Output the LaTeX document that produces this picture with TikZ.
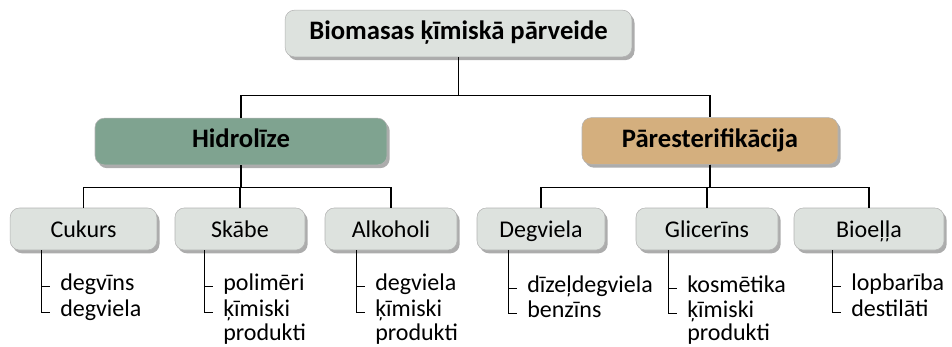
\documentclass[tikz,border=0pt]{standalone}
\usepackage{fontspec}
\setmainfont{Carlito}
\usetikzlibrary{shadows}
\definecolor{boxgray}{HTML}{DDE2DE}
\definecolor{hidgreen}{HTML}{7FA390}
\definecolor{partan}{HTML}{D4AF7E}
\begin{document}
\begin{tikzpicture}[
                    x=0.75pt, y=-0.75pt,
                    font=\fontsize{18}{22}\selectfont,
                    box/.style={rectangle, rounded corners=7pt, draw=black!30, line width=0.4pt,
                        fill=boxgray, minimum height=31.5pt, inner sep=0pt,
                        text height=16.5pt, text depth=4pt,
                        drop shadow={shadow xshift=2pt, shadow yshift=-2.5pt, opacity=0.65}},
                    headbox/.style={box, minimum height=35pt, text height=14pt, text depth=4.5pt,
                        font=\fontsize{20}{24}\selectfont\bfseries},
                    item/.style={anchor=base west, inner sep=0pt, text height=1ex, text depth=0pt},
                    link/.style={line width=0.8pt}
                ]
                \useasboundingbox (0,0) rectangle (952,346);

                % Blocks
                \node [headbox, minimum width=260pt] (top) at (458.5,33.5) {Biomasas ķīmiskā pārveide};
                \node [headbox, fill=hidgreen, minimum width=219pt] (hid) at (241,141.5) {Hidrolīze};
                \node [headbox, fill=partan, minimum width=192pt] (par) at (710,141) {Pāresterifikācija};

                \node [box, minimum width=110pt] (cuk) at (83.5,229) {Cukurs};
                \node [box, minimum width=97.5pt] (skb) at (240,229) {Skābe};
                \node [box, minimum width=99pt] (alk) at (391,229) {Alkoholi};
                \node [box, minimum width=96pt] (deg) at (541,229) {Degviela};
                \node [box, minimum width=106.5pt] (gli) at (707,229) {Glicerīns};
                \node [box, minimum width=112.5pt] (bio) at (869,229) {Bioeļļa};

                % Products
                \node [item] (cuk1) at (60,290) {degvīns};
                \node [item] (cuk2) at (60,316) {degviela};
                \node [item] (skb1) at (223,290) {polimēri};
                \node [item] (skb2) at (223,316) {ķīmiski};
                \node [item] (skb3) at (223,340) {produkti};
                \node [item] (alk1) at (375,290) {degviela};
                \node [item] (alk2) at (375,316) {ķīmiski};
                \node [item] (alk3) at (375,340) {produkti};
                \node [item] (deg1) at (527,292) {dīzeļdegviela};
                \node [item] (deg2) at (527,317) {benzīns};
                \node [item] (gli1) at (687,292) {kosmētika};
                \node [item] (gli2) at (687,317) {ķīmiski};
                \node [item] (gli3) at (687,340) {produkti};
                \node [item] (bio1) at (851,290) {lopbarība};
                \node [item] (bio2) at (851,316) {destilāti};

                % Connections
                \draw [link] (top.south) -- ++(0,38) -| (hid.north);
                \draw [link] (top.south) -- ++(0,38) -| (par.north);
                \draw [link] (hid.south) -- ++(0,22) -| (cuk.north);
                \draw [link] (hid.south) -- ++(0,22) -| (skb.north);
                \draw [link] (hid.south) -- ++(0,22) -| (alk.north);
                \draw [link] (par.south) -- ++(0,22.5) -| (deg.north);
                \draw [link] (par.south) -- ++(0,22.5) -| (gli.north);
                \draw [link] (par.south) -- ++(0,22.5) -| (bio.north);

                % Product trees
                \draw [link] ([xshift=-14pt]cuk1.west |- cuk.south) |- ([xshift=-7.5pt]cuk2.west);
                \draw [link] ([xshift=-14pt]cuk1.west) -- ([xshift=-7.5pt]cuk1.west);
                \draw [link] ([xshift=-14pt]skb1.west |- skb.south) |- ([xshift=-7.5pt]skb2.west);
                \draw [link] ([xshift=-14pt]skb1.west) -- ([xshift=-7.5pt]skb1.west);
                \draw [link] ([xshift=-14pt]alk1.west |- alk.south) |- ([xshift=-7.5pt]alk2.west);
                \draw [link] ([xshift=-14pt]alk1.west) -- ([xshift=-7.5pt]alk1.west);
                \draw [link] ([xshift=-14pt]deg1.west |- deg.south) |- ([xshift=-7.5pt]deg2.west);
                \draw [link] ([xshift=-14pt]deg1.west) -- ([xshift=-7.5pt]deg1.west);
                \draw [link] ([xshift=-14pt]gli1.west |- gli.south) |- ([xshift=-7.5pt]gli2.west);
                \draw [link] ([xshift=-14pt]gli1.west) -- ([xshift=-7.5pt]gli1.west);
                \draw [link] ([xshift=-14pt]bio1.west |- bio.south) |- ([xshift=-7.5pt]bio2.west);
                \draw [link] ([xshift=-14pt]bio1.west) -- ([xshift=-7.5pt]bio1.west);
            \end{tikzpicture}
\end{document}
